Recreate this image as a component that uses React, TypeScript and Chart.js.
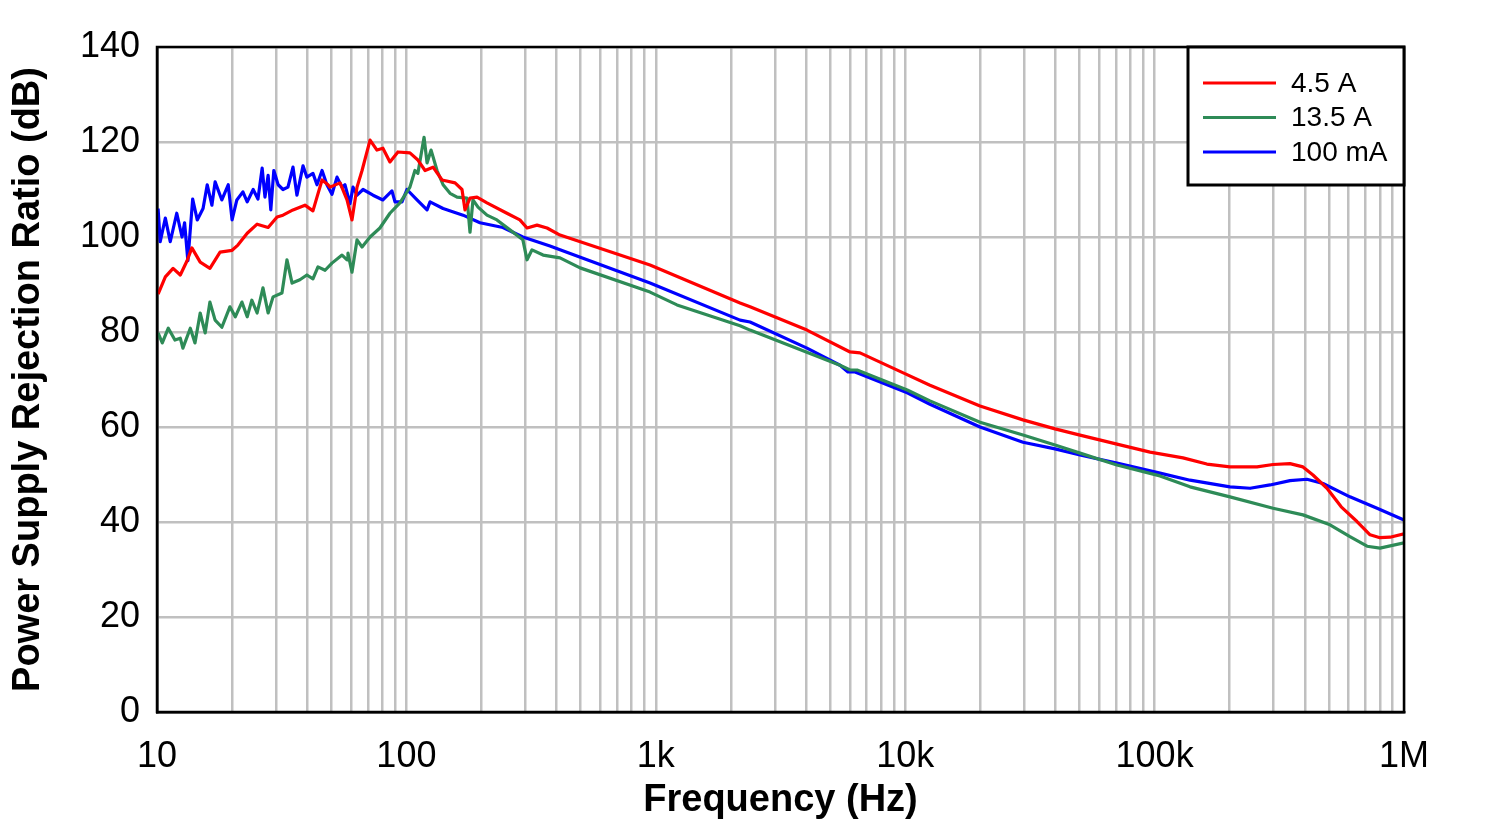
import React, { useEffect, useRef } from 'react';
import { Chart, registerables } from 'chart.js';

Chart.register(...registerables);

// ---------- Data ----------
const RED_FREQ = [
  10.1, 10.8, 11.6, 12.4, 13.2, 13.8, 14.9, 16.3, 17.9, 20.0, 21.1, 23.0, 25.2, 27.9, 30.3, 32.0,
  35.1, 39.2, 42.2, 43.8, 45.9, 48.5, 49.4, 54.2, 57.8, 60.5, 63.4, 66.4, 71.5, 76.2, 80.5, 85.9,
  92.5, 103.3, 111.2, 118.8, 127.9, 139.0, 156.7, 167.1, 171.8, 179.9, 191.9, 210.4, 252.9, 285.1,
  304.6, 334.0, 366.4, 413, 948, 2177, 2387, 4037, 6010, 6590, 9820, 12570, 19950, 29660, 39880,
  50230, 70630, 95900, 130000, 162000, 200500, 257500, 298500, 349000, 393500, 431500, 491000,
  560000, 648000, 731000, 801000, 879000, 1000000,
];
const RED_DB = [
  88, 91.6, 93.4, 92, 95, 97.7, 94.7, 93.4, 96.8, 97.2, 98.3, 100.8, 102.7, 102, 104.2, 104.6,
  105.7, 106.7, 105.5, 108.4, 112, 111, 110.5, 111.4, 107.8, 103.6, 110.5, 114, 120.4, 118.3, 118.7, 115.8,
  117.9, 117.7, 116.2, 114, 114.7, 112, 111.4, 110, 105.7, 108.2, 108.4, 107.2, 105, 103.6,
  101.9, 102.5, 101.9, 100.4, 94.1, 86.1, 85.3, 80.4, 75.8, 75.6, 71.4, 68.8, 64.4, 61.5, 59.6,
  58.3, 56.4, 54.7, 53.5, 52.2, 51.6, 51.6, 52.1, 52.3, 51.6, 49.9, 47.1,
  43.2, 40.1, 37.3, 36.7, 36.8, 37.5,
];

const GREEN_FREQ = [
  10.1, 10.5, 11.1, 11.8, 12.4, 12.7, 13.6, 14.2, 14.9, 15.6, 16.3, 17.1, 18.2, 19.6, 20.6, 21.9,
  23.0, 24.0, 25.2, 26.6, 27.9, 29.2, 31.7, 33.2, 34.8, 37.4, 39.9, 42.2, 44.2, 47.2, 50.3, 55.2,
  57.8, 58.3, 60.5, 63.4, 66.4, 71.5, 78.3, 85.9, 94.2, 103.3, 108.2, 111.2, 117.7, 121.0, 125.6,
  132.7, 140.3, 149.6, 159.6, 175.0, 179.9, 184.9, 193.7, 210.4, 230.7, 260.0, 293.1, 304.6, 318.9,
  353.2, 413, 497, 948, 1216, 2177, 2387, 5478, 6010, 6412, 10190, 12570, 19950, 29660, 39880,
  50230, 70630, 105100, 138700, 200500, 298500, 393500, 505000, 607000, 711000, 801000, 1000000,
];
const GREEN_DB = [
  79.8, 77.7, 80.8, 78.3, 78.7, 76.6, 80.8, 77.7, 84, 79.8, 86.3, 82.5, 81, 85.3, 83.2, 86.3,
  83.2, 86.7, 84, 89.3, 84, 87.4, 88.2, 95.2, 90.3, 91, 92, 91.2, 93.7, 93, 94.5, 96.2,
  95.2, 96.6, 92.6, 99.4, 97.9, 100, 101.9, 105, 107.2, 110.5, 114, 113.4, 121, 115.6, 118.3,
  114, 111, 109.2, 108.4, 108.2, 101, 107.8, 106.3, 104.6, 103.6, 101.5, 99.4, 95.2, 97.3,
  96.2, 95.6, 93.5, 88.4, 85.7, 81.3, 80.4, 73, 72, 72, 67.8, 65.5, 61, 58.3, 56.2,
  54.5, 52, 49.7, 47.4, 45.3, 42.9, 41.5, 39.4, 36.9, 34.9, 34.5, 35.6,
];

const BLUE_FREQ = [
  10.1, 10.3, 10.8, 11.3, 12.0, 12.6, 12.9, 13.3, 13.9, 14.5, 15.3, 15.9, 16.6, 17.1, 18.2, 19.3,
  20.0, 20.9, 22.1, 23.0, 24.3, 25.4, 26.4, 27.1, 27.9, 28.6, 29.4, 30.6, 32.0, 33.5, 35.1, 36.4,
  38.5, 39.9, 42.2, 43.8, 45.9, 48.0, 50.3, 52.7, 55.2, 56.7, 59.4, 61.1, 63.4, 67.0, 73.5, 80.5,
  87.5, 90.0, 96.0, 100.5, 110.3, 121.0, 124.4, 140.3, 168.7, 197.2, 243.8, 293.1, 376.5, 413,
  948, 2177, 2387, 4037, 5478, 5896, 6295, 10190, 12570, 19950, 29660, 39880, 50230, 70630,
  105100, 138700, 200500, 241500, 290400, 349000, 408000, 473500, 607000, 780000, 1000000,
];
const BLUE_DB = [
  106, 99, 104, 99, 105, 100, 103, 95, 108, 103.6, 106, 111, 106.7, 111.6, 107.8, 111,
  103.6, 107.8, 109.5, 107.4, 110, 108, 114.5, 108.4, 113, 105.7, 114, 111, 110, 110.5, 114.7, 108.8,
  115, 112.6, 113.4, 111, 114, 111, 109, 112.6, 110.5, 111, 107, 110.5, 108.8, 110, 108.8, 107.8,
  109.7, 107.4, 107.4, 110, 107.8, 105.7, 107.4, 106, 104.6, 103, 102, 100, 98.1, 97.3,
  90.3, 82.5, 82.1, 76.6, 73, 71.6, 71.6, 67.2, 64.8, 60, 56.8, 55.4, 54.1, 52.4,
  50.3, 48.8, 47.4, 47.1, 47.8, 48.7, 49, 48.1, 45.3, 42.9, 40.4,
];

const SERIES_LABELS = ['4.5 A', '13.5 A', '100 mA'];
const SERIES_COLORS = ['#ff0000', '#2e8b57', '#0000ff'];

const X_MIN = 10;
const X_MAX = 1000000;
const X_MAJOR_TICKS = [10, 100, 1000, 10000, 100000, 1000000];
const X_TICK_LABELS = ['10', '100', '1k', '10k', '100k', '1M'];
const Y_MIN = 0;
const Y_MAX = 140;
const Y_STEP = 20;

const X_TITLE = 'Frequency (Hz)';
const Y_TITLE = 'Power Supply Rejection Ratio (dB)';

const FONT = '"Liberation Sans", Arial, Helvetica, sans-serif';

function toPoints(freq: number[], db: number[]) {
  return freq.map((f, i) => ({ x: f, y: db[i] }));
}

function gridTicks(): number[] {
  const out: number[] = [];
  for (let d = 0; d < X_MAJOR_TICKS.length; d++) {
    const base = X_MAJOR_TICKS[d];
    out.push(base);
    if (d < X_MAJOR_TICKS.length - 1) {
      for (let m = 2; m <= 9; m++) out.push(base * m);
    }
  }
  return out;
}

const frameAndLegend = {
  id: 'frameAndLegend',
  afterDraw(chart: any) {
    const { ctx, chartArea } = chart;
    const { left, top, right, bottom } = chartArea;
    ctx.save();
    ctx.strokeStyle = '#000';
    ctx.lineWidth = 2.5;
    ctx.strokeRect(left, top, right - left, bottom - top);

    // legend box
    const bw = 216;
    const bh = 138;
    const bx = right - bw;
    const by = top;
    ctx.fillStyle = '#fff';
    ctx.fillRect(bx, by, bw, bh);
    ctx.lineWidth = 3;
    ctx.strokeRect(bx, by, bw, bh);
    ctx.font = `28px ${FONT}`;
    ctx.textBaseline = 'middle';
    ctx.textAlign = 'left';
    chart.data.datasets.forEach((ds: any, i: number) => {
      const y = by + 36 + i * 34.5;
      ctx.strokeStyle = ds.borderColor;
      ctx.lineWidth = 3;
      ctx.beginPath();
      ctx.moveTo(bx + 15, y);
      ctx.lineTo(bx + 88, y);
      ctx.stroke();
      ctx.fillStyle = '#000';
      ctx.fillText(ds.label, bx + 103, y + 1);
    });
    ctx.restore();
  },
};

export default function App() {
  const ref = useRef<HTMLCanvasElement | null>(null);

  useEffect(() => {
    if (!ref.current) return;
    const seriesFreq = [RED_FREQ, GREEN_FREQ, BLUE_FREQ];
    const seriesDb = [RED_DB, GREEN_DB, BLUE_DB];
    const ticksAll = gridTicks();
    const chart = new Chart(ref.current, {
      type: 'line',
      data: {
        datasets: SERIES_LABELS.map((label, i) => ({
          label,
          data: toPoints(seriesFreq[i], seriesDb[i]),
          borderColor: SERIES_COLORS[i],
          backgroundColor: SERIES_COLORS[i],
          borderWidth: 3.2,
          pointRadius: 0,
          tension: 0,
          borderJoinStyle: 'round',
          fill: false,
        })),
      },
      options: {
        animation: false,
        responsive: false,
        maintainAspectRatio: false,
        layout: { padding: { left: 0, right: 96, top: 47, bottom: 0 } },
        plugins: {
          legend: { display: false },
          tooltip: { enabled: false },
        },
        scales: {
          x: {
            type: 'logarithmic',
            min: X_MIN,
            max: X_MAX,
            afterFit: (scale: any) => {
              scale.height = 115;
            },
            afterBuildTicks: (scale: any) => {
              scale.ticks = ticksAll.map((v) => ({ value: v }));
            },
            grid: {
              color: '#c0c0c0',
              lineWidth: 2.5,
              drawTicks: false,
            },
            border: { color: '#000', width: 2.5 },
            ticks: {
              autoSkip: false,
              maxRotation: 0,
              minRotation: 0,
              padding: 23,
              color: '#000',
              font: { family: FONT, size: 36 },
              callback: (value: any) => {
                const idx = X_MAJOR_TICKS.indexOf(Number(value));
                return idx >= 0 ? X_TICK_LABELS[idx] : '';
              },
            },
            title: {
              display: true,
              text: X_TITLE,
              color: '#000',
              font: { family: FONT, size: 38, weight: 'bold', lineHeight: 1.2 },
              padding: { top: 0, bottom: 4 },
            },
          },
          y: {
            type: 'linear',
            min: Y_MIN,
            max: Y_MAX,
            afterFit: (scale: any) => {
              scale.width = 157;
            },
            grid: {
              color: '#c0c0c0',
              lineWidth: 2.5,
              drawTicks: false,
            },
            border: { color: '#000', width: 2.5 },
            ticks: {
              stepSize: Y_STEP,
              padding: 17,
              color: '#000',
              font: { family: FONT, size: 36 },
            },
            title: {
              display: true,
              text: Y_TITLE,
              color: '#000',
              font: { family: FONT, size: 38, weight: 'bold', lineHeight: 1.2 },
              padding: { top: 6, bottom: 0 },
            },
          },
        },
      },
      plugins: [frameAndLegend],
    });
    return () => chart.destroy();
  }, []);

  return (
    <div style={{ position: 'fixed', left: 0, top: 0, width: 1500, height: 827, background: '#fff' }}>
      <canvas ref={ref} width={1500} height={827} style={{ display: 'block', width: 1500, height: 827 }} />
    </div>
  );
}
